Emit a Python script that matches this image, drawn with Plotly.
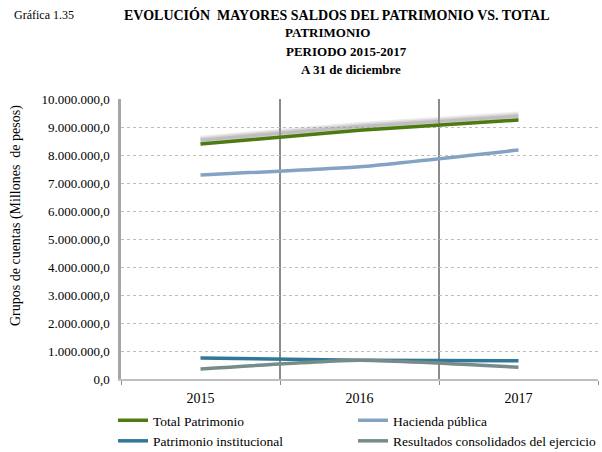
import plotly.graph_objects as go

# Years on the category axis
years = ["2015", "2016", "2017"]

# Balances in millions of pesos
total_patrimonio = [8390000.0, 8880000.0, 9250000.0]
hacienda_publica = [7290000.0, 7580000.0, 8180000.0]
patrimonio_institucional = [750000.0, 670000.0, 650000.0]
resultados_ejercicio = [360000.0, 670000.0, 420000.0]

y_ticks = [i * 1000000.0 for i in range(11)]

serif = "Liberation Serif"
xpos = list(range(len(years)))

# Plot-area geometry in pixels (used to place the free text)
W, H = 602, 452
L, R, T, B = 121, 4, 99, 73
PW, PH = W - L - R, H - T - B


def px_x(x):
    return (x - L) / PW


def px_y(y):
    return (H - B - y) / PH


fig = go.Figure()

# Soft grey shadow under the total line (base axis, range nudged so it sits slightly above)
for w, a in [(9, 0.18), (6, 0.28), (3, 0.35)]:
    fig.add_trace(go.Scatter(
        x=xpos, y=total_patrimonio, mode="lines", yaxis="y",
        line=dict(color=f"rgba(150,150,150,{a})", width=w, shape="spline", smoothing=0.5),
        showlegend=False, hoverinfo="skip"))

# Two legend columns: left column and right column
series = [
    ("Total Patrimonio", total_patrimonio, "#4E7A12", "legend"),
    ("Hacienda pública", hacienda_publica, "#84A3C3", "legend2"),
    ("Patrimonio institucional", patrimonio_institucional, "#2F7898", "legend"),
    ("Resultados consolidados del ejercicio", resultados_ejercicio, "#778B8B", "legend2"),
]
for name, vals, color, lg in series:
    fig.add_trace(go.Scatter(
        x=xpos, y=vals, name=name, mode="lines", yaxis="y2",
        legend=lg, legendgroup=name,
        line=dict(color=color, width=3.5, shape="spline", smoothing=0.5)))

legend_common = dict(orientation="v", y=px_y(405), xanchor="left", yanchor="top",
                     tracegroupgap=0,
                     font=dict(size=13.5, family=serif, color="black"),
                     bgcolor="rgba(0,0,0,0)", itemwidth=30)

fig.update_layout(
    width=W, height=H,
    margin=dict(l=L, r=R, t=T, b=B, autoexpand=False),
    paper_bgcolor="white", plot_bgcolor="white",
    separators=",.",
    font=dict(family=serif, size=13, color="black"),
    xaxis=dict(
        range=[-0.5, 2.5], tickvals=xpos, ticktext=years,
        showgrid=False, ticks="", tickfont=dict(size=14, family=serif),
        ticklabelstandoff=5,
        showline=True, linecolor="#BFBFBF", linewidth=2,
        minor=dict(tickvals=[-0.5, 0.5, 1.5, 2.5], showgrid=True,
                   gridcolor="#8C8C8C", gridwidth=2, ticks="outside",
                   ticklen=4, tickcolor="#8C8C8C"),
        zeroline=False,
    ),
    yaxis=dict(range=[-140000.0, 9860000.0], visible=False, showgrid=False),
    yaxis2=dict(
        overlaying="y", side="left", range=[0, 10000000.0],
        tickvals=y_ticks, tickformat=",.1f",
        showgrid=True, gridcolor="#BDBDBD", griddash="dot", gridwidth=1,
        showline=True, linecolor="#A6A6A6", linewidth=2.5,
        ticks="", zeroline=False, tickfont=dict(size=13, family=serif),
        ticklabelstandoff=6,
    ),
    legend=dict(x=px_x(113), **legend_common),
    legend2=dict(x=px_x(353), **legend_common),
)

# Heading block
fig.add_annotation(
    text="Gráfica 1.35", xref="paper", yref="paper",
    x=px_x(12), y=px_y(15), xanchor="left", yanchor="middle", showarrow=False,
    font=dict(size=12, family=serif, color="black"))

title_lines = [
    ("EVOLUCIÓN  MAYORES SALDOS DEL PATRIMONIO VS. TOTAL", 337, 15, 14),
    ("PATRIMONIO", 327, 33, 13),
    ("PERIODO 2015-2017", 346, 52, 13),
    ("A 31 de diciembre", 351, 70, 13),
]
for text, cx, cy, size in title_lines:
    fig.add_annotation(
        text=f"<b>{text}</b>", xref="paper", yref="paper",
        x=px_x(cx), y=px_y(cy), xanchor="center", yanchor="middle",
        showarrow=False, font=dict(size=size, family=serif, color="black"))

fig.add_annotation(
    text="Grupos de cuentas (Millones  de pesos)", textangle=-90,
    xref="paper", yref="paper", x=px_x(16), y=px_y(216),
    xanchor="center", yanchor="middle", showarrow=False,
    font=dict(size=14, family=serif, color="black"))

fig.write_html("out.html")
